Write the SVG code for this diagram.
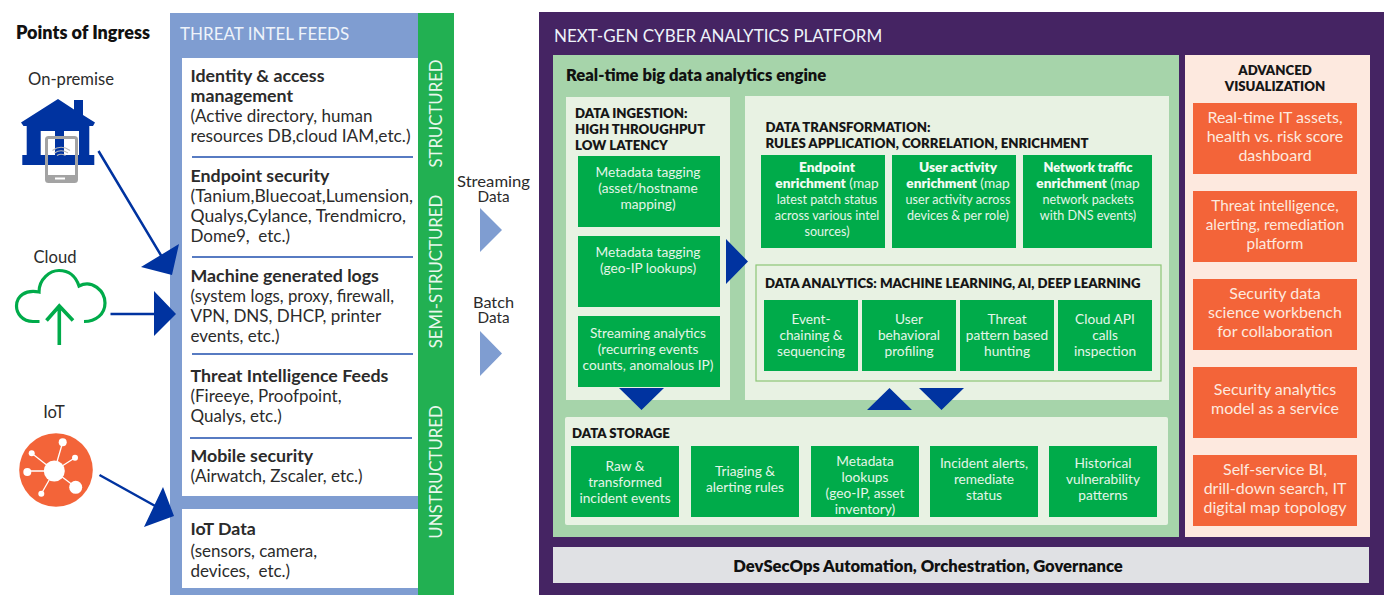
<svg xmlns="http://www.w3.org/2000/svg" width="1384" height="595" viewBox="0 0 1384 595">
<style>
text{font-family:"Lato","Liberation Sans",sans-serif}
.h{font-size:17.800px;font-weight:700;fill:#2b2b2b}
.b{font-size:17px;fill:#2b2b2b}
.l{font-size:16.600px;fill:#2b2b2b;text-anchor:middle}
.s{font-size:15.300px}
.w{font-size:17px;fill:#eef3fa}
.sec{font-size:13.200px;font-weight:800;fill:#161616}
.g{font-size:13.700px;fill:#e4f5e8;text-anchor:middle}
.t{font-size:12.600px}
.gb{font-size:13.700px;font-weight:800;fill:#f2fbf4}
.o{font-size:16px;fill:#fde9df;text-anchor:middle}
.o2{font-size:15.300px}
.v{font-size:16.800px;fill:#e9f7ec;text-anchor:middle}
.big{font-size:16.600px;font-weight:800;fill:#111}
.gbox{fill:#00ab4a}.obox{fill:#f36439}
.div{stroke:#1f4fae;stroke-width:1.500}
.navy{fill:#0033a0}.lb{fill:#7f9dd1}
.ln{stroke:#0033a0;stroke-width:2.500;fill:none}
</style>
<rect width="1384" height="595" fill="#fff"/>
<g id="ingress-title"><text x="16" y="39" font-size="18" font-weight="800" fill="#111">Points of Ingress</text></g>
<g id="on-premise">
<text class="l" x="71" y="85">On-premise</text>
<path class="navy" d="M58 99 L74 109.500 V100 H83 V115 L95 122.500 L93 126 H89.300 V155 H94.300 V165 H22.300 V155 H26.700 V126 H23.500 L21 122.500Z M40.700 131 V155 H55 V131Z M64 131 V155 H79 V131Z"/>
<rect x="46.500" y="137.500" width="30" height="44" rx="2" fill="none" stroke="#a3a3a3" stroke-width="3"/>
<rect x="46" y="175" width="31" height="7" fill="#a3a3a3"/>
<rect x="55" y="177.500" width="10" height="2" fill="#fff"/>
<path d="M52.500 150.500 Q61 144 70 150.500 M54.500 153 Q61 148.500 68 153 M57 155.500 Q61 153 65.500 155.500" fill="none" stroke="#b8b8b8" stroke-width="1.100"/>
</g>
<g id="cloud">
<text class="l" x="55" y="263">Cloud</text>
<path d="M39.500 321.500 H33 C22 321.500 16.500 313 16.500 306 C16.500 296 25 289.500 39 292 C39 279 50 270.500 59 270.500 C70 270.500 76 277 79 286 C92 279 105 291 105 303 C105 314 96 321.500 84 321.500" fill="none" stroke="#00ab4a" stroke-width="3.200"/>
<path d="M59.300 345 V306 M46.500 320.500 L59.300 306 L73 320.500" fill="none" stroke="#00ab4a" stroke-width="3.600"/>
</g>
<g id="iot">
<text class="l" x="54" y="418">IoT</text>
<circle cx="56" cy="470" r="36.800" fill="#f36439"/>
<path d="M54.300 471 L62.700 442.300 M54.300 471 L31.700 453.300 M54.300 471 L75 457.700 M54.300 471 H27.300 M54.300 471 L41.300 493.700 M54.300 471 L75.700 487.300" stroke="#fff" stroke-width="1.300"/>
<g fill="#fff"><circle cx="54.300" cy="471" r="10.500"/><circle cx="62.700" cy="442.300" r="4"/><circle cx="31.700" cy="453.300" r="3"/><circle cx="75" cy="457.700" r="3"/><circle cx="27.300" cy="472" r="4"/><circle cx="41.300" cy="493.700" r="3"/><circle cx="75.700" cy="487.300" r="6.500"/></g>
</g>
<g id="threat-intel-feeds">
<rect x="170" y="13" width="248" height="582" class="lb"/>
<rect x="182" y="58" width="236" height="438" fill="#fff"/>
<rect x="182" y="509" width="236" height="79" fill="#fff"/>
<text class="w" x="180" y="39.500">THREAT INTEL FEEDS</text>
<text class="h" x="190.500" y="82">Identity &amp; access</text>
<text class="h" x="190.500" y="102">management</text>
<text class="b" x="190.500" y="122">(Active directory, human</text>
<text class="b" x="190.500" y="142" textLength="220" lengthAdjust="spacingAndGlyphs">resources DB,cloud IAM,etc.)</text>
<line class="div" x1="192" y1="157" x2="413" y2="157"/>
<text class="h" x="190.500" y="182">Endpoint security</text>
<text class="b" x="190.500" y="202" textLength="222.500" lengthAdjust="spacingAndGlyphs">(Tanium,Bluecoat,Lumension,</text>
<text class="b" x="190.500" y="222" textLength="215.500" lengthAdjust="spacingAndGlyphs">Qualys,Cylance, Trendmicro,</text>
<text class="b" x="190.500" y="242" xml:space="preserve">Dome9,  etc.)</text>
<line class="div" x1="192" y1="257" x2="413" y2="257"/>
<text class="h" x="190.500" y="282">Machine generated logs</text>
<text class="b" x="190.500" y="302" textLength="203.500" lengthAdjust="spacingAndGlyphs">(system logs, proxy, firewall,</text>
<text class="b" x="190.500" y="322">VPN, DNS, DHCP, printer</text>
<text class="b" x="190.500" y="342">events, etc.)</text>
<line class="div" x1="192" y1="354" x2="413" y2="354"/>
<text class="h" x="190.500" y="382">Threat Intelligence Feeds</text>
<text class="b" x="190.500" y="402">(Fireeye, Proofpoint,</text>
<text class="b" x="190.500" y="422">Qualys, etc.)</text>
<line class="div" x1="190" y1="438" x2="412" y2="438"/>
<text class="h" x="190.500" y="462">Mobile security</text>
<text class="b" x="190.500" y="482">(Airwatch, Zscaler, etc.)</text>
<text class="h" x="190.500" y="535">IoT Data</text>
<text class="b" x="190.500" y="556.500">(sensors, camera,</text>
<text class="b" x="190.500" y="577" xml:space="preserve">devices,  etc.)</text>
</g>
<g id="data-types">
<rect x="418" y="13" width="36" height="582" fill="#22b052"/>
<text class="v" transform="translate(441.500 113.500) rotate(-90)">STRUCTURED</text>
<text class="v" transform="translate(441.500 271.500) rotate(-90)">SEMI-STRUCTURED</text>
<text class="v" transform="translate(441.500 472) rotate(-90)">UNSTRUCTURED</text>
</g>
<g id="streaming"><text class="l s" x="493.500" y="186.500" textLength="73" lengthAdjust="spacingAndGlyphs">Streaming</text><text class="l s" x="493.500" y="202" textLength="32" lengthAdjust="spacingAndGlyphs">Data</text></g>
<g id="batch"><text class="l s" x="493.500" y="307.500" textLength="41" lengthAdjust="spacingAndGlyphs">Batch</text><text class="l s" x="493.500" y="323" textLength="32" lengthAdjust="spacingAndGlyphs">Data</text></g>
<g id="platform">
<rect x="539" y="12" width="845" height="583" fill="#452463"/>
<text class="w" x="554" y="42">NEXT-GEN CYBER ANALYTICS PLATFORM</text>
<rect x="553" y="55" width="626" height="482" fill="#a6d4aa"/>
<text class="big" x="566" y="81">Real-time big data analytics engine</text>
</g>
<g id="data-ingestion">
<rect x="566" y="97" width="164" height="303" fill="#e8f2e3"/>
<text class="sec" x="575" y="117.500">DATA INGESTION:</text>
<text class="sec" x="575" y="133.500">HIGH THROUGHPUT</text>
<text class="sec" x="575" y="149.500">LOW LATENCY</text>
<rect class="gbox" x="578" y="156" width="142" height="71"/>
<text class="g" x="648" y="177">Metadata tagging</text><text class="g" x="648" y="193">(asset/hostname</text><text class="g" x="648" y="209">mapping)</text>
<rect class="gbox" x="578" y="236" width="142" height="71"/>
<text class="g" x="648" y="257">Metadata tagging</text><text class="g" x="648" y="273">(geo-IP lookups)</text>
<rect class="gbox" x="578" y="316" width="142" height="71"/>
<text class="g" x="648" y="337.500">Streaming analytics</text><text class="g" x="648" y="353.500">(recurring events</text><text class="g" x="648" y="369.500">counts, anomalous IP)</text>
</g>
<g id="data-transformation">
<rect x="745" y="96" width="424" height="304" fill="#e8f2e3"/>
<text class="sec" x="765.500" y="132">DATA TRANSFORMATION:</text>
<text class="sec" x="765.500" y="148">RULES APPLICATION, CORRELATION, ENRICHMENT</text>
<rect class="gbox" x="761" y="155" width="124" height="93"/>
<text class="g" x="827" y="171.500"><tspan class="gb">Endpoint</tspan></text><text class="g" x="827" y="187.500"><tspan class="gb">enrichment</tspan> (map</text><text class="g t" x="827" y="203.500">latest patch status</text><text class="g t" x="827" y="219.500">across various intel</text><text class="g t" x="827" y="235.500">sources)</text>
<rect class="gbox" x="892" y="155" width="124" height="93"/>
<text class="g" x="958" y="171.500"><tspan class="gb">User activity</tspan></text><text class="g" x="958" y="187.500"><tspan class="gb">enrichment</tspan> (map</text><text class="g t" x="958" y="203.500">user activity across</text><text class="g t" x="958" y="219.500">devices &amp; per role)</text>
<rect class="gbox" x="1023" y="155" width="129" height="93"/>
<text class="g" x="1088" y="171.500"><tspan class="gb" style="font-size:12.800px">Network traffic</tspan></text><text class="g" x="1088" y="187.500"><tspan class="gb">enrichment</tspan> (map</text><text class="g t" x="1088" y="203.500">network packets</text><text class="g t" x="1088" y="219.500">with DNS events)</text>
</g>
<g id="data-analytics">
<rect x="756" y="265" width="405" height="116" fill="none" stroke="#8cc576" stroke-width="1.200"/>
<text class="sec" x="765" y="287.500">DATA ANALYTICS: MACHINE LEARNING, AI, DEEP LEARNING</text>
<rect class="gbox" x="764" y="300" width="94" height="71"/><text class="g" x="811" y="323.500">Event-</text><text class="g" x="811" y="339.500">chaining &amp;</text><text class="g" x="811" y="355.500">sequencing</text>
<rect class="gbox" x="862" y="300" width="94" height="71"/><text class="g" x="909" y="323.500">User</text><text class="g" x="909" y="339.500">behavioral</text><text class="g" x="909" y="355.500">profiling</text>
<rect class="gbox" x="960" y="300" width="94" height="71"/><text class="g" x="1007" y="323.500">Threat</text><text class="g" x="1007" y="339.500">pattern based</text><text class="g" x="1007" y="355.500">hunting</text>
<rect class="gbox" x="1058" y="300" width="94" height="71"/><text class="g" x="1105" y="323.500">Cloud API</text><text class="g" x="1105" y="339.500">calls</text><text class="g" x="1105" y="355.500">inspection</text>
</g>
<g id="data-storage">
<rect x="565" y="417" width="603" height="108" rx="2" fill="#e8f2e3"/>
<text class="sec" x="572" y="438">DATA STORAGE</text>
<rect class="gbox" x="571" y="446" width="108" height="71"/><text class="g" x="625" y="470.500">Raw &amp;</text><text class="g" x="625" y="486.500">transformed</text><text class="g" x="625" y="502.500">incident events</text>
<rect class="gbox" x="691" y="446" width="108" height="71"/><text class="g" x="745" y="475.500">Triaging &amp;</text><text class="g" x="745" y="491.500">alerting rules</text>
<rect class="gbox" x="811" y="446" width="108" height="71"/><text class="g" x="865" y="465.500">Metadata</text><text class="g" x="865" y="481.500">lookups</text><text class="g" x="865" y="497.500">(geo-IP, asset</text><text class="g" x="865" y="513.500">inventory)</text>
<rect class="gbox" x="930" y="446" width="108" height="71"/><text class="g" x="984" y="467.500">Incident alerts,</text><text class="g" x="984" y="483.500">remediate</text><text class="g" x="984" y="499.500">status</text>
<rect class="gbox" x="1049" y="446" width="108" height="71"/><text class="g" x="1103" y="467.500">Historical</text><text class="g" x="1103" y="483.500">vulnerability</text><text class="g" x="1103" y="499.500">patterns</text>
</g>
<g id="advanced-visualization">
<rect x="1185" y="55" width="185" height="482" fill="#fde9df"/>
<text class="sec" x="1275" y="75" text-anchor="middle">ADVANCED</text><text class="sec" x="1275" y="91" text-anchor="middle">VISUALIZATION</text>
<rect class="obox" x="1193" y="103" width="164" height="71"/><text class="o" x="1275" y="122.500">Real-time IT assets,</text><text class="o" x="1275" y="141.500">health vs. risk score</text><text class="o" x="1275" y="160.500">dashboard</text>
<rect class="obox" x="1193" y="191" width="164" height="71"/><text class="o o2" x="1275" y="210.500">Threat intelligence,</text><text class="o o2" x="1275" y="229.500">alerting, remediation</text><text class="o o2" x="1275" y="248.500">platform</text>
<rect class="obox" x="1193" y="279" width="164" height="71"/><text class="o" x="1275" y="298.500">Security data</text><text class="o" x="1275" y="317.500">science workbench</text><text class="o" x="1275" y="336.500">for collaboration</text>
<rect class="obox" x="1193" y="367" width="164" height="71"/><text class="o" x="1275" y="395">Security analytics</text><text class="o" x="1275" y="414">model as a service</text>
<rect class="obox" x="1193" y="455" width="164" height="71"/><text class="o" x="1275" y="475">Self-service BI,</text><text class="o" x="1275" y="494">drill-down search, IT</text><text class="o" x="1275" y="513">digital map topology</text>
</g>
<g id="devsecops">
<rect x="553" y="547" width="816" height="36" fill="#e0e1e4"/>
<text class="big" x="928" y="572" text-anchor="middle">DevSecOps Automation, Orchestration, Governance</text>
</g>
<g id="connectors">
<path class="ln" d="M98.500 151 L162 257 M110.500 314 H158 M99.500 475 L157 507"/>
<path class="navy" d="M179 244 L141 267 L172 275Z M154 291 V336 L176 314Z M163 487 L144 527 L174 516Z"/>
<path class="lb" d="M480 208 L502 230 L480 252Z M480 331 L502 353.500 L480 376Z"/>
<path class="navy" d="M726 239 L748 261.500 L726 284Z M619 388 H664 L641.500 410Z M867 410 H912 L889.500 388Z M919 388 H964 L941.500 410Z"/>
</g>
</svg>
